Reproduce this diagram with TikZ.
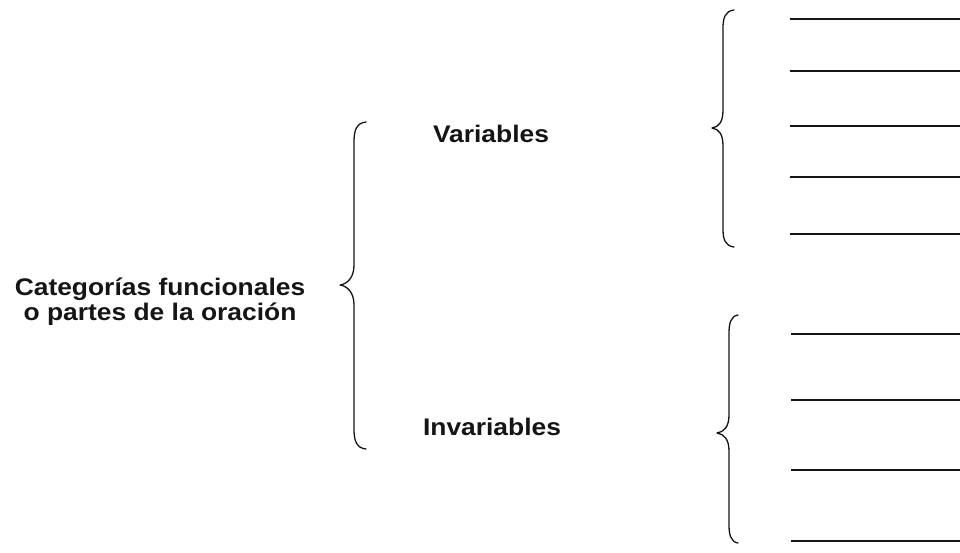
\documentclass[tikz,border=0pt]{standalone}
\usepackage{fontspec}
\setmainfont{Liberation Sans}
\definecolor{ink}{HTML}{151515}
\newcommand{\stretchtxt}[1]{\scalebox{1.1}[1]{#1}}
\newcommand{\drawbrace}[7]{% xe, xv, xt, yt, ym, yb, r
  \draw[bracestyle] (#1,#4) .. controls (#2+2,#4+1) and (#2,#4+#7*0.45) .. (#2,#4+#7) -- (#2,#5-#7)
    .. controls (#2,#5-#7*0.35) and (#3+7,#5-1) .. (#3,#5)
    .. controls (#3+7,#5+1) and (#2,#5+#7*0.35) .. (#2,#5+#7)
    -- (#2,#6-#7) .. controls (#2,#6-#7*0.45) and (#2+2,#6-1) .. (#1,#6);}
\begin{document}
\begin{tikzpicture}[x=1pt,y=-1pt,
  lbl/.style={font=\fontsize{24}{25}\selectfont\bfseries, text=ink, inner sep=0pt, anchor=base},
  bracestyle/.style={draw=ink, line width=1.3pt, line cap=round, line join=round},
  blank/.style={draw=ink, line width=1.8pt}]
\useasboundingbox[fill=white] (0,0) rectangle (960,552);

% labels
\node[lbl] (cat) at (160,295) {\stretchtxt{\begin{tabular}[t]{@{}c@{}}Categorías funcionales\\o partes de la oración\end{tabular}}};
\node[lbl] (var) at (491,142) {\stretchtxt{Variables}};
\node[lbl] (inv) at (492,435) {\stretchtxt{Invariables}};

% braces
\drawbrace{366}{354}{340}{122}{285}{449}{20}
\drawbrace{734}{723}{712}{10}{128}{247}{18}
\drawbrace{738}{729}{717}{315}{433}{543}{18}

% blank lines (upper group)
\foreach \yy in {19,71,126,177,234}
  \draw[blank] (790,\yy) -- (960,\yy);
% blank lines (lower group)
\foreach \yy in {334,400,470,541}
  \draw[blank] (791,\yy) -- (960,\yy);
\end{tikzpicture}
\end{document}
